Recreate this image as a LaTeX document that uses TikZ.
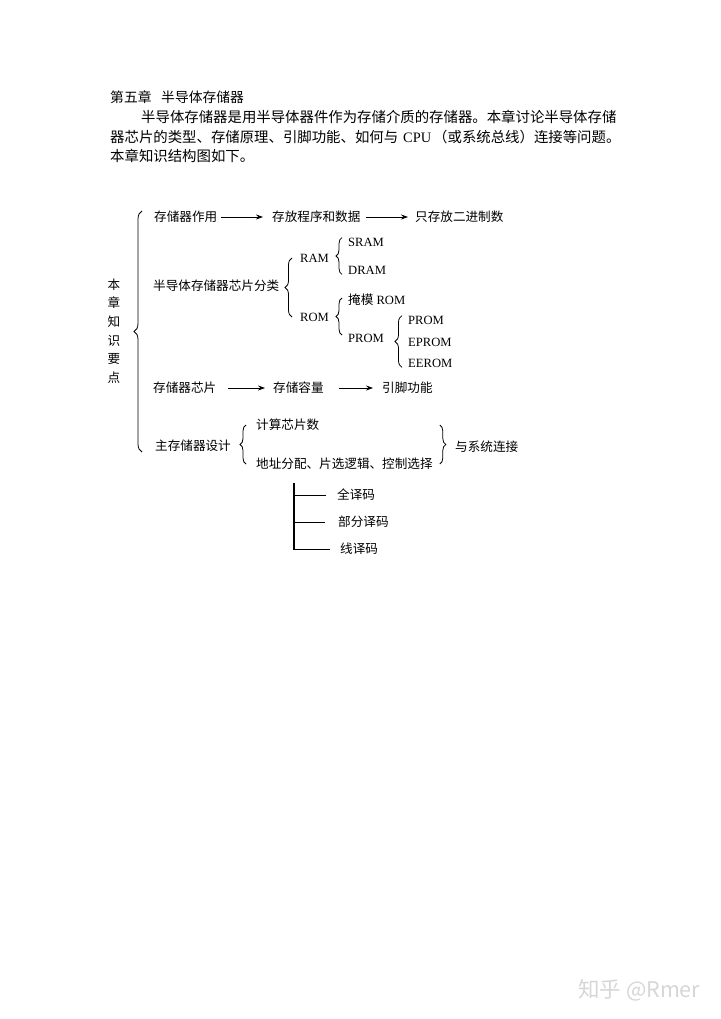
\documentclass[tikz,border=0pt]{standalone}
\usepackage{fontspec}
\setmainfont{Liberation Serif}
\newfontfamily\cjk{Noto Sans CJK SC}
\usetikzlibrary{arrows.meta,decorations.pathreplacing,calc}

\begin{document}
\begin{tikzpicture}[x=1pt,y=-1pt,
  body/.style={font=\cjk\fontsize{14.4}{19}\selectfont, inner sep=0pt, anchor=west},
  zh/.style={font=\cjk\fontsize{12.6}{15}\selectfont, inner sep=0pt, anchor=west},
  en/.style={font=\fontsize{12.6}{15}\selectfont, inner sep=0pt, anchor=west},
  arr/.style={-{Stealth[length=7pt,width=5pt]}, line width=0.8pt},
  lbrace/.style={decorate, decoration={brace, amplitude=#1}, line width=0.8pt},
  lbrace/.default=6pt]
  \useasboundingbox (0,0) rectangle (720,1019);

  % text above the chart
  \node[body, font=\cjk\fontsize{13.8}{19}\selectfont] (title) at (110,97) {第五章\hspace{0.7em}半导体存储器};
  \node[body] (l2) at (141,117) {半导体存储器是用半导体器件作为存储介质的存储器。本章讨论半导体存储};
  \node[body] (l3) at (110,137) {器芯片的类型、存储原理、引脚功能、如何与\hspace{5pt}{\rmfamily CPU}\hspace{2pt}（或系统总线）连接等问题。};
  \node[body] (l4) at (110,156) {本章知识结构图如下。};

  % left label
  \node[zh, anchor=center, align=center, font=\cjk\fontsize{12.6}{18.6}\selectfont] (yd) at (114,331) {本\\章\\知\\识\\要\\点};

  % row 1
  \node[zh] (zy) at (154,217) {存储器作用};
  \node[zh] (cf) at (272,217) {存放程序和数据};
  \node[zh] (zc) at (415,217) {只存放二进制数};
  \draw[arr, shorten <=4pt, shorten >=9pt] (zy) -- (cf);
  \draw[arr, shorten <=5pt, shorten >=7pt] (cf) -- (zc);

  % chip classes
  \node[zh] (fl) at (153,286) {半导体存储器芯片分类};
  \node[en] (ram) at (300,258) {RAM};
  \node[en] (rom) at (300,317) {ROM};
  \node[en] (sram) at (348,242) {SRAM};
  \node[en] (dram) at (348,270) {DRAM};
  \node[en] (ym) at (348,300) {{\cjk 掩模} ROM};
  \node[en] (prom) at (348,338) {PROM};
  \node[en] (p1) at (408,320) {PROM};
  \node[en] (p2) at (408,342) {EPROM};
  \node[en] (p3) at (408,363) {EEROM};
  \draw[lbrace=7pt] ([xshift=-8pt]rom.west) -- ([xshift=-8pt]ram.west);
  \draw[lbrace] ([xshift=-6pt]dram.south west) -- ([xshift=-6pt]sram.north west);
  \draw[lbrace] ([xshift=-6pt,yshift=3pt]prom.west) -- ([xshift=-6pt,yshift=2pt]ym.west);
  \draw[lbrace=7pt] ([xshift=-6pt]p3.south west) -- ([xshift=-6pt]p1.north west);

  % chip row
  \node[zh] (xp) at (153,388) {存储器芯片};
  \node[zh] (rl) at (273,388) {存储容量};
  \node[zh] (yj) at (382,388) {引脚功能};
  \draw[arr, shorten <=12pt, shorten >=8pt] (xp) -- (rl);
  \draw[arr, shorten <=15pt, shorten >=9pt] (rl) -- (yj);

  % main memory design
  \node[zh] (zhu) at (155,446) {主存储器设计};
  \node[zh] (js) at (256,425) {计算芯片数};
  \node[zh] (dz) at (256,464) {地址分配、片选逻辑、控制选择};
  \node[zh] (lj) at (455,447) {与系统连接};
  \draw[lbrace] ([xshift=-10pt]dz.west) -- ([xshift=-10pt]js.west);
  \draw[lbrace] ($(dz.east |- js.west)+(7,0)$) -- ($(dz.east)+(7,0)$);

  % big brace
  \coordinate (bt) at ([xshift=-12pt]zy.north west);
  \draw[lbrace=8pt] (bt |- zhu.south) -- (bt);

  % decoding
  \node[zh] (qy) at (337,495) {全译码};
  \node[zh] (bf) at (338,522) {部分译码};
  \node[zh] (xy) at (340,549) {线译码};
  \coordinate (tr1) at (294,483);
  \coordinate (tr2) at (294,550);
  \draw[line width=1.2pt] (tr1) -- (tr2);
  \draw[line width=0.8pt] (tr1 |- qy.west) -- ([xshift=-11pt]qy.west);
  \draw[line width=0.8pt] (tr1 |- bf.west) -- ([xshift=-13pt]bf.west);
  \draw[line width=0.8pt] (tr1 |- xy.west) -- ([xshift=-10pt]xy.west);

  % watermark
  \node[inner sep=0pt, anchor=west, text=black!16, font=\cjk\fontsize{21.5}{24}\selectfont] (wm) at (578,990) {知乎 @Rmer};
\end{tikzpicture}
\end{document}
